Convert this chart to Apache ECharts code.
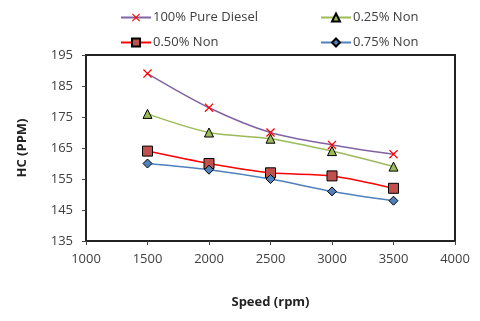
<!DOCTYPE html>
<html><head><meta charset="utf-8">
<script src="https://cdn.jsdelivr.net/npm/echarts@6/dist/echarts.min.js"></script>
<style>html,body{margin:0;padding:0;background:#fff}#c{width:480px;height:321px}</style>
</head><body><div id="c"></div>
<script>
const speeds = [1500, 2000, 2500, 3000, 3500];
const seriesNames = ['100% Pure Diesel', '0.25% Non', '0.50% Non', '0.75% Non'];
const diesel = [189, 178, 170, 166, 163];
const non025 = [176, 170, 168, 164, 159];
const non050 = [164, 160, 157, 156, 152];
const non075 = [160, 158, 155, 151, 148];
const yTicks = [135, 145, 155, 165, 175, 185, 195];
const xTicks = [1000, 1500, 2000, 2500, 3000, 3500, 4000];

const pairs = arr => speeds.map((s, i) => [s, arr[i]]);
const xPath = 'path://M1,0 L5,4 L9,0 L10,1 L6,5 L10,9 L9,10 L5,6 L1,10 L0,9 L4,5 L0,1 Z';
const font = '"Open Sans", "Liberation Sans", sans-serif';

const chart = echarts.init(document.getElementById('c'), null, {renderer: 'canvas'});
const mkLegend = (name, left, top) => ({
  data: [name], left: left, top: top, itemWidth: 30, itemHeight: 10, itemGap: 2,
  textStyle: {fontSize: 13, color: '#404040', fontFamily: font, padding: [0, 0, 0, -3]}, padding: 0
});
chart.setOption({
  animation: false,
  legend: [
    mkLegend(seriesNames[0], 120, 11),
    mkLegend(seriesNames[1], 320, 11),
    mkLegend(seriesNames[2], 120, 36),
    mkLegend(seriesNames[3], 320, 36)
  ],
  grid: {left: 86, right: 25, top: 55, bottom: 80, show: true, borderColor: '#222', borderWidth: 2},
  xAxis: {
    type: 'value', min: xTicks[0], max: xTicks[xTicks.length - 1], interval: 500,
    name: 'Speed (rpm)', nameLocation: 'middle', nameGap: 55,
    nameTextStyle: {fontWeight: 'bold', fontSize: 13, color: '#222', fontFamily: font},
    axisLine: {show: true, lineStyle: {color: '#222', width: 2}},
    axisTick: {show: true, length: 4, lineStyle: {color: '#444'}},
    axisLabel: {fontSize: 13, color: '#404040', margin: 12, fontFamily: font, formatter: v => String(v)},
    splitLine: {show: false}
  },
  yAxis: {
    type: 'value', min: yTicks[0], max: yTicks[yTicks.length - 1], interval: 10,
    name: 'HC (PPM)', nameLocation: 'middle', nameGap: 57, nameRotate: 90,
    nameTextStyle: {fontWeight: 'bold', fontSize: 13, color: '#222', fontFamily: font},
    axisLine: {show: true, lineStyle: {color: '#222', width: 2}},
    axisTick: {show: true, length: 4, lineStyle: {color: '#444'}},
    axisLabel: {fontSize: 13, color: '#404040', margin: 13, fontFamily: font, formatter: v => String(v)},
    splitLine: {show: false}
  },
  series: [
    {name: seriesNames[0], type: 'line', smooth: 0.3, data: pairs(diesel),
     lineStyle: {color: '#8064A2', width: 1.5}, symbol: xPath, symbolSize: 9,
     itemStyle: {color: '#FF0000', borderWidth: 0}},
    {name: seriesNames[1], type: 'line', smooth: 0.3, data: pairs(non025),
     lineStyle: {color: '#9BBB59', width: 1.5}, symbol: 'triangle', symbolSize: 9,
     itemStyle: {color: '#9BBB59', borderColor: '#000', borderWidth: 1}},
    {name: seriesNames[2], type: 'line', smooth: 0.3, data: pairs(non050),
     lineStyle: {color: '#FF0000', width: 1.5}, symbol: 'rect', symbolSize: 10,
     itemStyle: {color: '#C0504D', borderColor: '#000', borderWidth: 1}},
    {name: seriesNames[3], type: 'line', smooth: 0.3, data: pairs(non075),
     lineStyle: {color: '#4F81BD', width: 1.5}, symbol: 'diamond', symbolSize: 9,
     itemStyle: {color: '#4F81BD', borderColor: '#000', borderWidth: 1}}
  ]
});
</script></body></html>
